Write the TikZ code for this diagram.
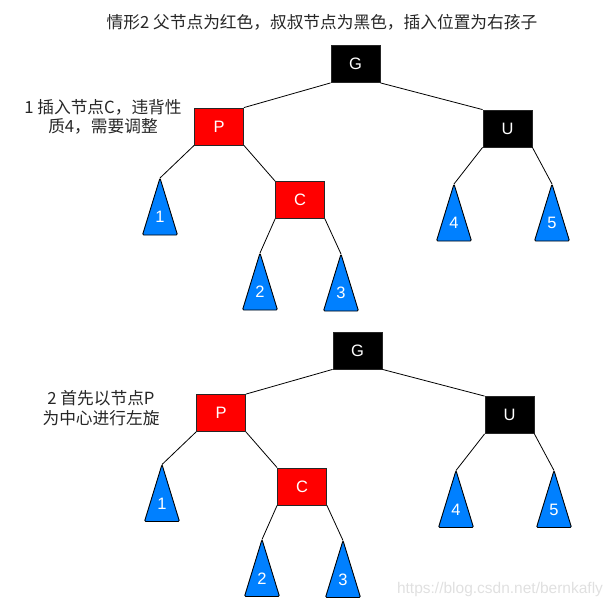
\documentclass[tikz,border=0pt]{standalone}
\usepackage{fontspec}
\setmainfont{Liberation Sans}
\newfontfamily\cjk{Noto Sans CJK SC}
\definecolor{nodered}{RGB}{255,0,0}
\definecolor{treeblue}{RGB}{0,128,255}

% one subtree: name, apex, number
\newcommand\subtree[3]{%
  \coordinate (#1) at (#2);
  \draw[subtree] (#1) -- ++(-17.5,57) -- ++(35,0) -- cycle;
  \path (#1) ++(0,39) node[digit] (#1-num) {#3};}

\begin{document}
\begin{tikzpicture}[x=1pt, y=-1pt,
    rbnode/.style={draw=black!85, line width=0.8pt, minimum width=49pt, minimum height=37pt, inner sep=0pt, text=white, font=\fontsize{16.5}{16.5}\selectfont},
    rednode/.style={rbnode, fill=nodered},
    blacknode/.style={rbnode, fill=black},
    subtree/.style={draw=black, line width=0.9pt, fill=treeblue, rounded corners=1.2pt, line join=round},
    digit/.style={text=white, font=\fontsize{16.5}{16.5}\selectfont},
    edge/.style={line width=0.8pt},
    note/.style={align=center, text=black!85, font=\cjk\fontsize{16.7}{19.5}\selectfont}]
    \useasboundingbox (0,0) rectangle (615,608);

    \node[note] (title) at (322,22) {情形2 父节点为红色，叔叔节点为黑色，插入位置为右孩子};
    \node[note] (note1) at (103,117) {1 插入节点C，违背性\\质4，需要调整};
    \node[note] (note2) at (101,408) {2 首先以节点P\\为中心进行左旋};

    % the same tree twice
    \foreach \pre/\dx/\dy in {a/0/0, b/2/286.5} {
    \begin{scope}[shift={(\dx,\dy)}, name prefix=\pre-]
        \node[blacknode] (G) at (355.5,64) {G};
        \node[rednode] (P) at (219,126.5) {P};
        \node[blacknode] (U) at (507.5,128.5) {U};
        \node[rednode] (C) at (300,200) {C};
        \subtree{t1}{160,178}{1}
        \subtree{t2}{260,253}{2}
        \subtree{t3}{341,254}{3}
        \subtree{t4}{454,184}{4}
        \subtree{t5}{552,184}{5}
        \draw[edge] (G.south west) -- (P.north east);
        \draw[edge] (G.south east) -- (U.north west);
        \draw[edge] (P.south west) -- (t1);
        \draw[edge] (P.south east) -- (C.north west);
        \draw[edge] (C.south west) -- (t2);
        \draw[edge] (C.south east) -- (t3);
        \draw[edge] (U.south west) -- (t4);
        \draw[edge] (U.south east) -- (t5);
    \end{scope}
    }

    \node[text=black!12, font=\fontsize{15.5}{15.5}\selectfont] (mark) at (500,589) {https://blog.csdn.net/bernkafly};
\end{tikzpicture}
\end{document}
